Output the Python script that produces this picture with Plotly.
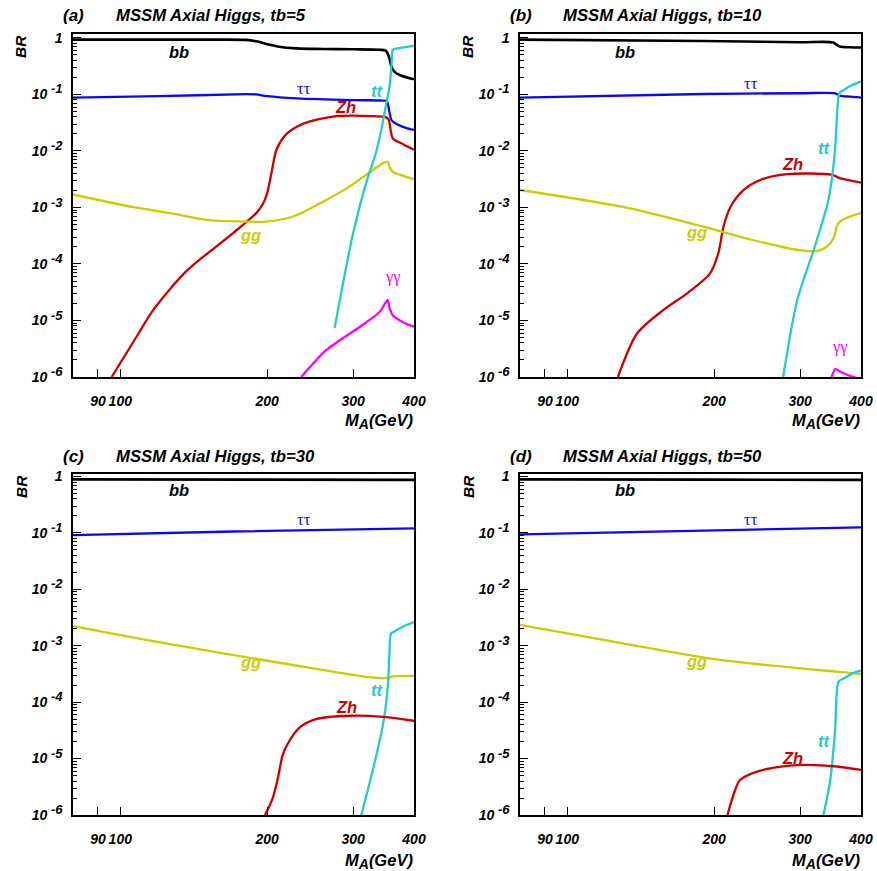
import plotly.graph_objects as go

# ---------------- data (M_A in GeV, BR values) ----------------
# panel (a) tb=5
a_bb_m = [80, 150, 181, 190, 200, 210, 230, 260, 300, 340, 350, 355, 360, 365, 375, 390, 400]
a_bb_br = [0.933, 0.933, 0.923, 0.871, 0.776, 0.708, 0.653, 0.638, 0.631, 0.617, 0.596, 0.479, 0.302, 0.251, 0.219, 0.195, 0.186]
a_tau_m = [80, 120, 181, 190, 200, 230, 300, 345, 352, 356, 360, 370, 385, 400]
a_tau_br = [0.0881, 0.0933, 0.101, 0.100, 0.0933, 0.0851, 0.0794, 0.078, 0.0759, 0.0501, 0.0347, 0.0295, 0.0257, 0.0236]
a_zh_m = [96, 109, 116, 126, 135, 145, 157, 170, 190, 196, 200, 204, 209, 218, 230, 244, 273, 300, 330, 350, 355, 362, 380, 400]
a_zh_br = [1e-6, 5.89e-6, 1.41e-5, 3.47e-5, 6.76e-5, 1.17e-4, 2.0e-4, 3.47e-4, 7.94e-4, 1.15e-3, 1.78e-3, 3.98e-3, 1.05e-2, 1.91e-2, 2.69e-2, 3.31e-2, 4.07e-2, 4.23e-2, 4.12e-2, 3.98e-2, 3.55e-2, 1.66e-2, 1.32e-2, 1.05e-2]
a_gg_m = [80, 106, 130, 150, 180, 199, 226, 256, 295, 329, 353, 357, 362, 380, 400]
a_gg_br = [1.70e-3, 1.02e-3, 7.59e-4, 6.03e-4, 5.62e-4, 5.62e-4, 6.92e-4, 1.17e-3, 2.34e-3, 4.57e-3, 6.46e-3, 5.01e-3, 4.27e-3, 3.63e-3, 3.16e-3]
a_tt_m = [275, 286, 300, 319, 335, 345, 352, 356, 360, 362, 373, 390, 400]
a_tt_br = [7.41e-6, 4.47e-5, 3.47e-4, 2.69e-3, 0.01, 0.0316, 0.0794, 0.126, 0.363, 0.617, 0.661, 0.700, 0.724]
a_aa_m = [235, 264, 310, 340, 353, 357, 362, 380, 400]
a_aa_br = [1e-6, 2.95e-6, 7.76e-6, 1.41e-5, 2.29e-5, 1.58e-5, 1.23e-5, 9.33e-6, 7.76e-6]

# panel (b) tb=10
b_bb_m = [80, 190, 300, 351, 356, 362, 380, 400]
b_bb_br = [0.933, 0.881, 0.841, 0.832, 0.759, 0.708, 0.684, 0.676]
b_tau_m = [80, 190, 300, 354, 362, 380, 400]
b_tau_br = [0.0881, 0.102, 0.105, 0.105, 0.0955, 0.0912, 0.0881]
b_zh_m = [127, 139, 157, 176, 196, 204, 209, 216, 230, 249, 282, 348, 362, 400]
b_zh_br = [1e-6, 5.89e-6, 1.51e-5, 3.02e-5, 6.76e-5, 1.55e-4, 4.57e-4, 1.02e-3, 2.04e-3, 3.09e-3, 3.89e-3, 3.80e-3, 3.31e-3, 2.75e-3]
b_gg_m = [80, 130, 190, 241, 296, 325, 340, 351, 357, 362, 380, 400]
b_gg_br = [2.04e-3, 1.02e-3, 4.57e-4, 2.63e-4, 1.78e-4, 1.70e-4, 2.0e-4, 2.82e-4, 4.68e-4, 5.62e-4, 6.92e-4, 7.94e-4]
b_tt_m = [277, 296, 320, 343, 351, 355, 357, 359, 361, 369, 380, 400]
b_tt_br = [1e-6, 2.29e-5, 1.78e-4, 1.35e-3, 5.25e-3, 0.0158, 0.0407, 0.0794, 0.105, 0.120, 0.141, 0.170]
b_aa_m = [348, 351, 354, 360, 370, 380, 390]
b_aa_br = [1e-6, 1.20e-6, 1.38e-6, 1.29e-6, 1.15e-6, 1.05e-6, 0.98e-6]

# panel (c) tb=30
c_bb_m = [80, 200, 400]
c_bb_br = [0.891, 0.881, 0.871]
c_tau_m = [80, 170, 400]
c_tau_br = [0.0918, 0.106, 0.121]
c_gg_m = [80, 124, 215, 319, 353, 360, 380, 400]
c_gg_br = [2.24e-3, 1.10e-3, 4.90e-4, 2.82e-4, 2.69e-4, 2.85e-4, 2.92e-4, 2.92e-4]
c_tt_m = [312, 332, 346, 353, 356, 359, 364, 380, 400]
c_tt_br = [1e-6, 8.32e-6, 4.27e-5, 1.66e-4, 6.31e-4, 1.66e-3, 1.78e-3, 2.19e-3, 2.63e-3]
c_zh_m = [198, 205, 210, 215, 220, 233, 252, 295, 346, 400]
c_zh_br = [1e-6, 1.91e-6, 4.17e-6, 1.12e-5, 1.78e-5, 3.55e-5, 5.01e-5, 5.75e-5, 5.50e-5, 4.68e-5]

# panel (d) tb=50
d_bb_m = [80, 200, 400]
d_bb_br = [0.891, 0.881, 0.871]
d_tau_m = [80, 170, 400]
d_tau_br = [0.0944, 0.108, 0.126]
d_gg_m = [80, 130, 206, 357, 380, 400]
d_gg_br = [2.34e-3, 1.10e-3, 5.62e-4, 3.47e-4, 3.31e-4, 3.16e-4]
d_tt_m = [335, 346, 354, 360, 369, 384, 400]
d_tt_br = [1e-6, 4.17e-6, 3.24e-5, 2.34e-4, 2.63e-4, 3.24e-4, 3.63e-4]
d_zh_m = [213, 219, 226, 245, 282, 310, 357, 400]
d_zh_br = [1e-6, 2.24e-6, 4.17e-6, 5.89e-6, 7.41e-6, 7.76e-6, 7.24e-6, 6.31e-6]

panel_tags = ["(a)", "(b)", "(c)", "(d)"]
panel_titles = ["MSSM Axial Higgs, tb=5", "MSSM Axial Higgs, tb=10",
                "MSSM Axial Higgs, tb=30", "MSSM Axial Higgs, tb=50"]
x_ticks = [90, 100, 200, 300, 400]
x_ticktext = ["90", "100", "200", "300", "400"]
y_ticks = [1e-6, 1e-5, 1e-4, 1e-3, 1e-2, 1e-1, 1]
y_exponents = ["-6", "-5", "-4", "-3", "-2", "-1", None]

# ---------------- styling ----------------
W, H = 877, 871
COL = {"bb": "#000000", "tau": "#0a0aee", "zh": "#cc0000", "gg": "#cccc00",
       "tt": "#22cccc", "aa": "#ff00ff"}
SANS = "Liberation Sans, Arial, Helvetica, sans-serif"
SERIF = "Liberation Serif, DejaVu Serif, serif"

y_ticktext = [("10<sup><span style='font-size:13px'> " + e + "</span></sup>") if e else "1"
              for e in y_exponents]

def px(x):
    return x / W

def py(y):
    return 1 - y / H

# plot frames in pixels: (left, right, top, bottom)
frames = [(73, 414, 34, 377), (520, 861, 34, 377), (73, 414, 474, 815), (520, 861, 474, 815)]
ytops = [0.07, 0.07, 0.045, 0.045]

minor_y = [k * 10.0 ** e for e in range(-6, 0) for k in range(2, 10)]

fig = go.Figure()

panels = [
    [("bb", a_bb_m, a_bb_br), ("tau", a_tau_m, a_tau_br), ("zh", a_zh_m, a_zh_br),
     ("gg", a_gg_m, a_gg_br), ("tt", a_tt_m, a_tt_br), ("aa", a_aa_m, a_aa_br)],
    [("bb", b_bb_m, b_bb_br), ("tau", b_tau_m, b_tau_br), ("zh", b_zh_m, b_zh_br),
     ("gg", b_gg_m, b_gg_br), ("tt", b_tt_m, b_tt_br), ("aa", b_aa_m, b_aa_br)],
    [("bb", c_bb_m, c_bb_br), ("tau", c_tau_m, c_tau_br), ("gg", c_gg_m, c_gg_br),
     ("tt", c_tt_m, c_tt_br), ("zh", c_zh_m, c_zh_br)],
    [("bb", d_bb_m, d_bb_br), ("tau", d_tau_m, d_tau_br), ("gg", d_gg_m, d_gg_br),
     ("tt", d_tt_m, d_tt_br), ("zh", d_zh_m, d_zh_br)],
]

for i, curves in enumerate(panels):
    xa = "x" if i == 0 else f"x{i+1}"
    ya = "y" if i == 0 else f"y{i+1}"
    for key, m, br in curves:
        fig.add_trace(go.Scatter(x=m, y=br, mode="lines", xaxis=xa, yaxis=ya,
                                 line=dict(color=COL[key], width=2.6 if key == "bb" else 2.3,
                                           shape="spline", smoothing=0.8),
                                 showlegend=False, hoverinfo="skip"))

tickfont = dict(family=SANS, size=14, color="black", weight="bold", style="italic")
layout = {}
for i, (l, r, t, b) in enumerate(frames):
    sx = "" if i == 0 else str(i + 1)
    layout["xaxis" + sx] = dict(
        type="log", domain=[px(l), px(r)], range=[1.90309, 2.60206],
        anchor="y" + sx, showline=True, mirror=True, linecolor="black", linewidth=1.5,
        ticks="inside", ticklen=8, tickwidth=1, tickcolor="black",
        tickvals=x_ticks, ticktext=x_ticktext, tickfont=tickfont,
        ticklabelstandoff=10, showgrid=False, zeroline=False, fixedrange=True,
        automargin=False)
    layout["yaxis" + sx] = dict(
        type="log", domain=[py(b), py(t)], range=[-6, ytops[i]],
        anchor="x" + sx, showline=True, mirror=True, linecolor="black", linewidth=1.5,
        ticks="inside", ticklen=8, tickwidth=1, tickcolor="black",
        tickvals=y_ticks, ticktext=y_ticktext, tickfont=tickfont,
        ticklabelstandoff=6,
        minor=dict(tickvals=minor_y, ticks="inside", ticklen=4, tickcolor="black", tickwidth=1,
                   showgrid=False),
        showgrid=False, zeroline=False, fixedrange=True, automargin=False)

ann = []
def label(x, y, text, color="black", size=16, family=SANS, bold=True, italic=True,
          xanchor="center", angle=0):
    ann.append(dict(xref="paper", yref="paper", x=px(x), y=py(y), text=text,
                    showarrow=False, xanchor=xanchor, yanchor="middle", textangle=angle,
                    font=dict(family=family, size=size, color=color,
                              weight="bold" if bold else "normal",
                              style="italic" if italic else "normal")))

for i, (l, r, t, b) in enumerate(frames):
    dx = l - 73
    dy = t - 34
    label(61 + dx, 16 + dy, panel_tags[i], xanchor="left", size=17)
    label(114 + dx, 16 + dy, panel_titles[i], xanchor="left", size=16.7)
    label(21 + dx, 47 + dy, "BR", angle=-90, size=15.5)
    label(r + 1, 421 + dy, "M<sub><span style='font-size:14px'>A</span></sub>(GeV)",
          xanchor="right", size=16.5)

curve_labels = [
    [("bb", 179, 52), ("tau", 304, 88), ("tt", 377, 91), ("zh", 345, 107), ("gg", 250, 235), ("aa", 393, 276)],
    [("bb", 625, 52), ("tau", 751, 83), ("tt", 824, 148), ("zh", 792, 164), ("gg", 696, 232), ("aa", 840, 347)],
    [("bb", 179, 490), ("tau", 304, 519), ("gg", 250, 662), ("tt", 377, 690), ("zh", 346, 707)],
    [("bb", 625, 490), ("tau", 751, 519), ("gg", 696, 661), ("tt", 824, 741), ("zh", 792, 758)],
]
names = {"bb": "bb", "tau": "ττ", "zh": "Zh", "gg": "gg", "tt": "tt", "aa": "γγ"}
for pl in curve_labels:
    for key, x, y in pl:
        if key in ("tau", "aa"):
            label(x, y, names[key], color=COL[key], size=16.5, family=SERIF, bold=False, italic=False)
        else:
            label(x, y, names[key], color=COL[key], size=16.5)

fig.update_layout(**layout)
fig.update_layout(width=W, height=H, margin=dict(l=0, r=0, t=0, b=0, pad=0),
                  autosize=False,
                  paper_bgcolor="white", plot_bgcolor="white", annotations=ann,
                  showlegend=False)
fig.write_html("out.html",
               post_script="document.body.style.margin='0';document.body.style.overflow='hidden';")
